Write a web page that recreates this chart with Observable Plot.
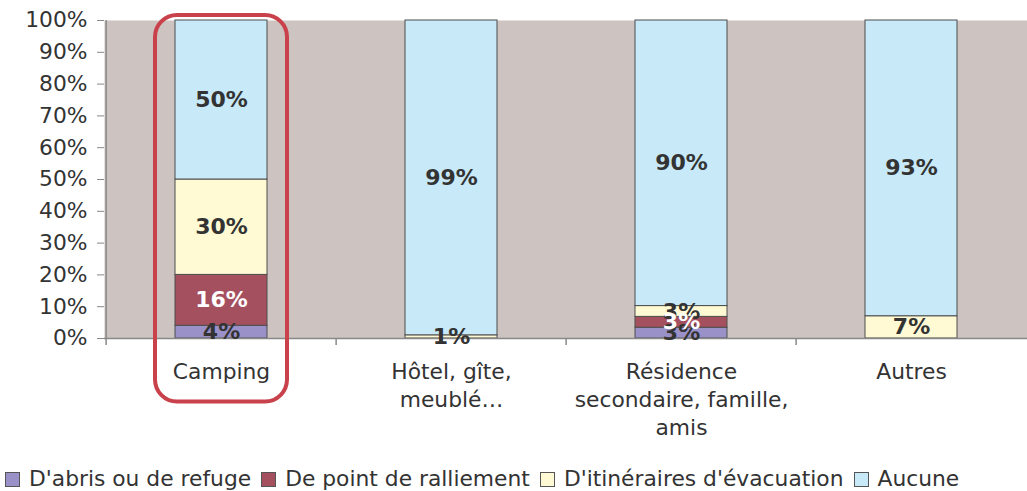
<!DOCTYPE html>
<html>
<head>
<meta charset="utf-8">
<script src="https://cdn.jsdelivr.net/npm/d3@7"></script>
<script src="https://cdn.jsdelivr.net/npm/@observablehq/plot@0.6"></script>
<style>
  html, body { margin: 0; padding: 0; background: white; }
  #legend { display: flex; align-items: center; margin-top: 22px; padding-left: 5px;
    font-family: "DejaVu Sans", Verdana, sans-serif; font-size: 21.8px; color: #333; line-height: 24px; }
  .item { display: inline-flex; align-items: center; margin-right: 10px; white-space: nowrap; }
  .sw { width: 13px; height: 13px; border: 1px solid #555; margin-right: 9px; display: inline-block; }
</style>
</head>
<body>
<div id="chart"></div>
<div id="legend"></div>
<script>
const categories = ["Camping", "Hôtel, gîte, meublé…", "Résidence secondaire, famille, amis", "Autres"];
const categoryLabels = ["Camping", "Hôtel, gîte,\nmeublé…", "Résidence\nsecondaire, famille,\namis", "Autres"];
const series = ["D'abris ou de refuge", "De point de ralliement", "D'itinéraires d'évacuation", "Aucune"];
const abri = [4, 0, 3.4, 0];
const ralliement = [16, 0, 3.4, 0];
const itineraires = [30, 1, 3.4, 7];
const aucune = [50, 99, 89.8, 93];
const colors = ["#9B91C9", "#A5505F", "#FFFAD4", "#C7E9F8"];
const yTicks = [0, 10, 20, 30, 40, 50, 60, 70, 80, 90, 100];
const highlighted = ["Camping"];

const seriesValues = [abri, ralliement, itineraires, aucune];
const data = [];
series.forEach((s, si) => categories.forEach((c, ci) => data.push({category: c, series: s, value: seriesValues[si][ci]})));

const width = 1027, height = 445, marginLeft = 104, marginRight = 0;
const band = (width - marginLeft - marginRight) / categories.length;
const labelOf = new Map(categories.map((c, i) => [c, categoryLabels[i]]));
const fmt = d => d.value > 0 ? Math.round(d.value) + "%" : "";

const chart = Plot.plot({
  width, height, marginLeft, marginRight, marginTop: 20, marginBottom: 107,
  style: {fontFamily: "DejaVu Sans, Verdana, sans-serif", fontSize: "21.8px", color: "#333", background: "white", overflow: "visible"},
  x: {domain: categories, paddingInner: 0.6, paddingOuter: 0.3, label: null},
  y: {domain: [0, 100], label: null},
  color: {domain: series, range: colors},
  marks: [
    Plot.frame({fill: "#CDC4C1", stroke: null}),
    Plot.axisY({ticks: yTicks, tickFormat: d => d + "%", tickSize: 7, tickPadding: 10, stroke: "#888", label: null, fill: "#333"}),
    Plot.axisX({tickSize: 0, tickPadding: 21, tickFormat: d => labelOf.get(d), lineHeight: 1.28, label: null, fill: "#333"}),
    Plot.barY(data, {x: "category", y: "value", z: "series", fill: "series", order: series, stroke: "#4d4d4d", strokeWidth: 1}),
    Plot.ruleY([0], {stroke: "#888", strokeWidth: 1.5}),
    Plot.ruleX(categories, {x: d => d, dx: -band / 2, y1: -2.2, y2: (d, i) => i === 0 ? 100 : 0, stroke: "#888", strokeWidth: 1.5}),
    Plot.text(data, Plot.stackY({x: "category", y: "value", z: "series", order: series,
      text: d => d.series === series[1] ? "" : fmt(d), fill: "#333", fontWeight: "bold", fontSize: 22})),
    Plot.text(data, Plot.stackY({x: "category", y: "value", z: "series", order: series,
      text: d => d.series === series[1] ? fmt(d) : "", fill: "white", fontWeight: "bold", fontSize: 22})),
    Plot.barY(highlighted, {x: d => d, y1: -20, y2: 101.6, fill: "none", stroke: "#C8414B", strokeWidth: 4,
      rx: 22, insetLeft: -20, insetRight: -20})
  ]
});
document.getElementById("chart").appendChild(chart);

const legend = document.getElementById("legend");
series.forEach((s, i) => {
  const item = document.createElement("span");
  item.className = "item";
  const sw = document.createElement("span");
  sw.className = "sw";
  sw.style.background = colors[i];
  item.appendChild(sw);
  item.appendChild(document.createTextNode(s));
  legend.appendChild(item);
});
</script>
</body>
</html>
